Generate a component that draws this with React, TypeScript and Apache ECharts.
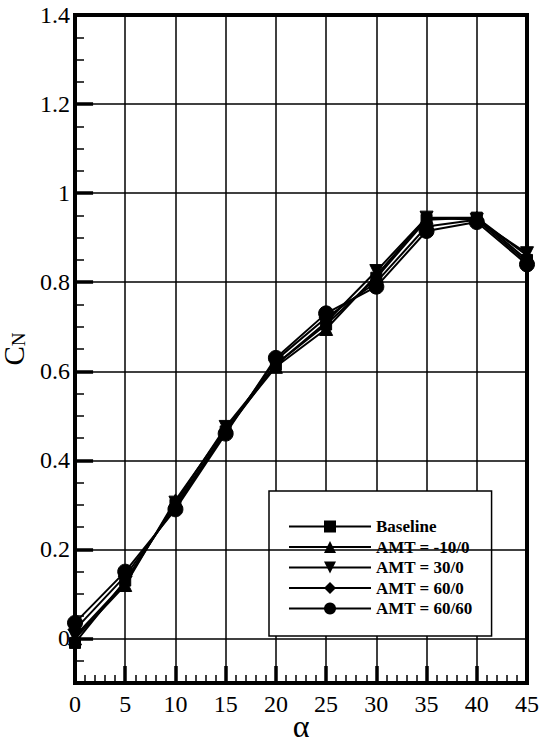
import React, { useEffect, useRef } from "react";
import * as echarts from "echarts";

const alpha = [0, 5, 10, 15, 20, 25, 30, 35, 40, 45];
const baseline = [-0.01, 0.13, 0.3, 0.465, 0.615, 0.705, 0.81, 0.94, 0.945, 0.85];
const amtM10_0 = [0.0, 0.12, 0.31, 0.47, 0.61, 0.695, 0.815, 0.945, 0.945, 0.86];
const amt30_0 = [0.005, 0.125, 0.305, 0.475, 0.615, 0.71, 0.825, 0.945, 0.94, 0.865];
const amt60_0 = [0.02, 0.14, 0.295, 0.465, 0.625, 0.72, 0.8, 0.925, 0.94, 0.845];
const amt60_60 = [0.035, 0.15, 0.29, 0.46, 0.63, 0.73, 0.79, 0.915, 0.935, 0.84];

const seriesNames = ["Baseline", "AMT = -10/0", "AMT = 30/0", "AMT = 60/0", "AMT = 60/60"];
const xMajorTicks = [0, 5, 10, 15, 20, 25, 30, 35, 40, 45];
const yMajorTicks = [0, 0.2, 0.4, 0.6, 0.8, 1, 1.2, 1.4];

const FONT = "Liberation Serif";

export default function App() {
  const ref = useRef<HTMLDivElement>(null);
  useEffect(() => {
    if (!ref.current) return;
    const chart = echarts.init(ref.current, null, { renderer: "svg" });
    const pair = (ys: number[]) => alpha.map((a, i) => [a, ys[i]]);
    const values = [baseline, amtM10_0, amt30_0, amt60_0, amt60_60];
    const symbols = ["rect", "triangle", "triangle", "diamond", "circle"];
    const sizes = [11, 13, 13, 14, 15];
    const rotates = [0, 0, 180, 0, 0];

    const isMajorY = (v: number) =>
      v > -1e-9 && Math.abs(v / 0.2 - Math.round(v / 0.2)) < 1e-6;

    const dataSeries = values.map((ys, i) => ({
      name: seriesNames[i],
      type: "line",
      data: pair(ys),
      symbol: symbols[i],
      symbolSize: sizes[i],
      symbolRotate: rotates[i],
      showAllSymbol: true,
      lineStyle: { color: "#000", width: 2 },
      itemStyle: { color: "#000", borderColor: "#000" },
      z: 5,
      silent: true,
    }));

    const gridLines = {
      name: "grid",
      type: "line",
      data: [],
      z: 1,
      silent: true,
      markLine: {
        silent: true,
        symbol: "none",
        label: { show: false },
        animation: false,
        data: [
          ...yMajorTicks
            .filter((v) => v < 1.4)
            .map((v) => ({ yAxis: v, lineStyle: { color: "#000", width: 1.5, type: "solid" } })),
          ...yMajorTicks
            .filter((v) => v < 1.4)
            .map((v) => [
              { coord: [0, v], lineStyle: { color: "#000", width: 3.5, type: "solid" } },
              { coord: [1.8, v] },
            ]),
        ],
      },
    };

    chart.setOption({
      animation: false,
      backgroundColor: "#fff",
      textStyle: { fontFamily: FONT },
      grid: {
        left: 75,
        right: 15,
        top: 15,
        bottom: 65,
        show: true,
        borderColor: "#000",
        borderWidth: 4,
        backgroundColor: "transparent",
        containLabel: false,
        outerBoundsMode: "none",
      },
      legend: {
        data: seriesNames,
        orient: "vertical",
        left: 269,
        top: 491,
        padding: [27, 19, 19, 19],
        itemWidth: 82,
        itemHeight: 15,
        itemGap: 3.5,
        backgroundColor: "#fff",
        borderColor: "#000",
        borderWidth: 1.5,
        borderRadius: 0,
        selectedMode: false,
        textStyle: {
          fontFamily: FONT,
          fontSize: 17,
          fontWeight: "bold",
          color: "#000",
        },
      },
      xAxis: [
        {
          type: "value",
          min: 0,
          max: 45,
          interval: 1,
          position: "bottom",
          name: "α",
          nameLocation: "middle",
          nameGap: 27,
          nameMoveOverlap: false,
          nameTextStyle: { fontFamily: FONT, fontSize: 32, color: "#000" },
          axisLine: { show: true, onZero: false, lineStyle: { color: "#000", width: 4 } },
          axisTick: { show: true, inside: true, length: 8, lineStyle: { color: "#000", width: 1.5 } },
          axisLabel: {
            fontFamily: FONT,
            fontSize: 24,
            color: "#000",
            margin: 9,
            formatter: (v: number) => (xMajorTicks.includes(v) ? String(v) : ""),
          },
          splitLine: { show: false },
        },
        {
          type: "value",
          min: 0,
          max: 45,
          interval: 5,
          position: "bottom",
          axisLine: { show: false, onZero: false },
          axisTick: { show: true, inside: true, length: 17, lineStyle: { color: "#000", width: 3.5 } },
          axisLabel: { show: false },
          splitLine: { show: true, lineStyle: { color: "#000", width: 1.5 } },
        },
      ],
      yAxis: [
        {
          type: "value",
          min: -0.1,
          max: 1.4,
          interval: 0.05,
          name: "{c|C}{n|N}",
          nameLocation: "middle",
          nameRotate: 90,
          nameGap: 47,
          nameMoveOverlap: false,
          nameTextStyle: {
            color: "#000",
            rich: {
              c: { fontFamily: FONT, fontSize: 29, color: "#000", lineHeight: 28 },
              n: { fontFamily: FONT, fontSize: 19, color: "#000", lineHeight: 16, verticalAlign: "bottom" },
            },
          },
          axisLine: { show: true, onZero: false, lineStyle: { color: "#000", width: 4 } },
          axisTick: { show: true, inside: true, length: 9, lineStyle: { color: "#000", width: 1.5 } },
          axisLabel: {
            fontFamily: FONT,
            fontSize: 24,
            color: "#000",
            margin: 5,
            showMinLabel: false,
            formatter: (v: number) => (isMajorY(v) ? String(+v.toFixed(1)) : ""),
          },
          splitLine: { show: false },
        },
      ],
      series: [gridLines, ...dataSeries],
    });
    return () => chart.dispose();
  }, []);
  return (
    <div
      ref={ref}
      style={{ position: "fixed", left: 0, top: 0, width: 542, height: 748, background: "#fff" }}
    />
  );
}
